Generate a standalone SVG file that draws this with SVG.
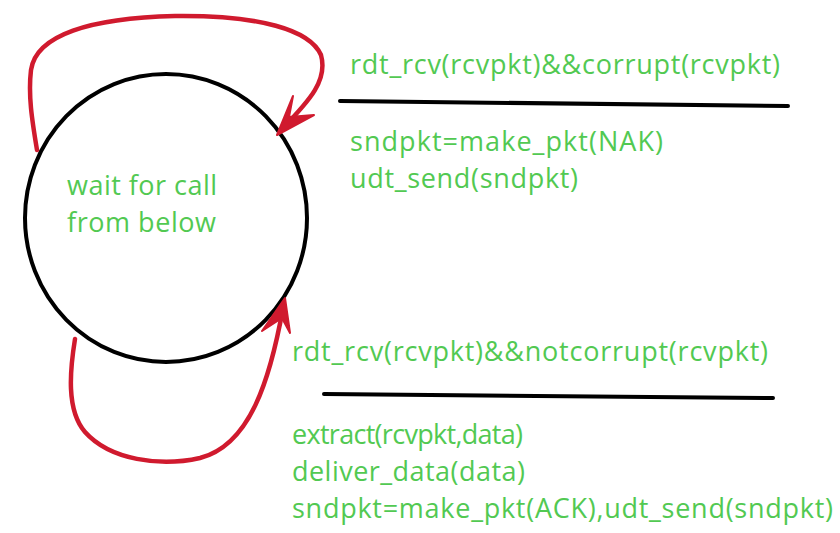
<svg xmlns="http://www.w3.org/2000/svg" width="840" height="533" viewBox="0 0 840 533">
<style>
.t{font-family:"Open Sans","Noto Sans",sans-serif;font-size:27px;fill:#52c952}
.c{fill:none;stroke:#d01a2e;stroke-width:4.5;stroke-linecap:round;stroke-linejoin:round}
.h{fill:#d01a2e;stroke:#d01a2e;stroke-width:2;stroke-linejoin:round}
.bar{stroke:#000;stroke-width:4;stroke-linecap:round}
</style>
<rect width="840" height="533" fill="#fff"/>
<g id="state">
<ellipse cx="166" cy="218" rx="141" ry="144" fill="none" stroke="#000" stroke-width="4"/>
<text class="t" x="67" y="195" textLength="150">wait for call</text>
<text class="t" x="67" y="232" textLength="149">from below</text>
</g>
<g id="connectors">
<path class="c" d="M37,150 C32,120 28,95 31,70 C36,35 90,18 175,16 C260,15 310,30 321,55 C328,80 310,100 283,128"/>
<polygon class="h" points="277,135 293,96 289,117 314,115"/>
<path class="c" d="M75,339 C70,370 66,410 85,432 C110,460 160,467 200,458 C250,445 270,380 283,308"/>
<polygon class="h" points="285,298 290,333 282,318 262,331"/>
</g>
<g id="label-top">
<text class="t" x="350" y="74" textLength="430">rdt_rcv(rcvpkt)&amp;&amp;corrupt(rcvpkt)</text>
<line class="bar" x1="340" y1="101" x2="788" y2="106"/>
<text class="t" x="350" y="151" textLength="313">sndpkt=make_pkt(NAK)</text>
<text class="t" x="350" y="188" textLength="228">udt_send(sndpkt)</text>
</g>
<g id="label-bottom">
<text class="t" x="292" y="361" textLength="476">rdt_rcv(rcvpkt)&amp;&amp;notcorrupt(rcvpkt)</text>
<line class="bar" x1="324" y1="394" x2="773" y2="398"/>
<text class="t" x="292" y="444" textLength="231">extract(rcvpkt,data)</text>
<text class="t" x="292" y="481" textLength="233">deliver_data(data)</text>
<text class="t" x="292" y="518" textLength="541">sndpkt=make_pkt(ACK),udt_send(sndpkt)</text>
</g>
</svg>
